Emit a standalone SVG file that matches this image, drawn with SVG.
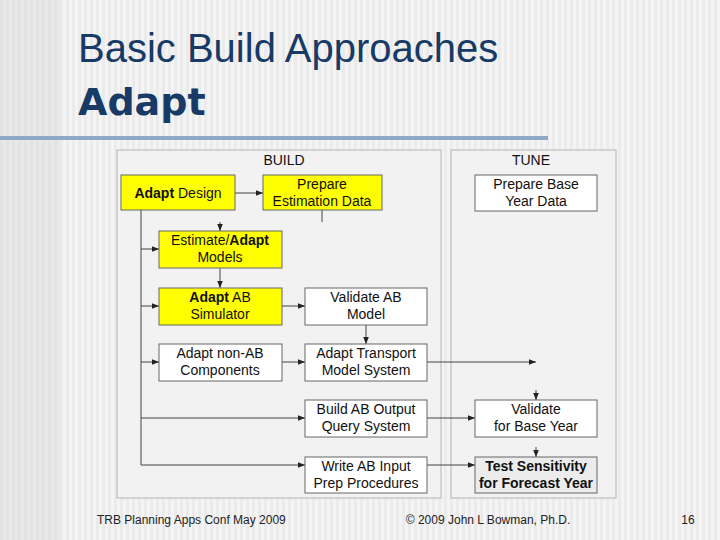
<svg xmlns="http://www.w3.org/2000/svg" width="720" height="540" viewBox="0 0 720 540">
<defs>
<pattern id="st" width="6" height="10" patternUnits="userSpaceOnUse"><rect width="6" height="10" fill="#f4f4f4"/><rect width="3" height="10" fill="#ebebeb"/></pattern>
<marker id="ah" viewBox="0 0 10 10" refX="10" refY="5" markerWidth="7" markerHeight="7" orient="auto"><path d="M0,1 L10,5 L0,9 Z" fill="#222"/></marker>
<style>
.n{stroke:#666;stroke-width:1}
.y{fill:#ffff00}
.w{fill:#ffffff}
.t{font-family:"Liberation Sans",Arial,sans-serif;font-size:14px;fill:#111;text-anchor:middle}
.c{stroke:#444;stroke-width:1;fill:none}
.p{fill:#f2f2f2;stroke:#c8c8c8;stroke-width:1.5}
</style>
</defs>
<rect width="720" height="540" fill="url(#st)"/>
<rect x="0" y="0" width="60" height="540" fill="#d8d8d8" opacity="0.4"/>
<line x1="0" y1="138" x2="548" y2="138" stroke="#8fa8c8" stroke-width="4"/>
<text x="78" y="62" font-family="'Liberation Sans',Arial,sans-serif" font-size="40" fill="#173a66">Basic Build Approaches</text>
<text x="78" y="115" font-family="'DejaVu Sans',sans-serif" font-weight="bold" font-size="38" fill="#173a66">Adapt</text>
<rect class="p" x="117" y="150" width="324" height="348"/>
<rect class="p" x="451" y="150" width="165" height="348"/>
<text class="t" x="284" y="165">BUILD</text>
<text class="t" x="531" y="165">TUNE</text>
<g id="connectors">
<path class="c" d="M235,193 H263" marker-end="url(#ah)"/>
<path class="c" d="M322,210 V222" stroke="#bbb"/>
<path class="c" d="M220,222 V231" marker-end="url(#ah)"/>
<path class="c" d="M141,210 V465" stroke="#ccc"/>
<path class="c" d="M141,249 H159" marker-end="url(#ah)"/>
<path class="c" d="M141,306 H159" marker-end="url(#ah)"/>
<path class="c" d="M141,362 H159" marker-end="url(#ah)"/>
<path class="c" d="M141,418 H305" marker-end="url(#ah)"/>
<path class="c" d="M141,465 H305" marker-end="url(#ah)"/>
<path class="c" d="M220,268 V288" marker-end="url(#ah)"/>
<path class="c" d="M282,306 H305" marker-end="url(#ah)"/>
<path class="c" d="M366,325 V344" marker-end="url(#ah)"/>
<path class="c" d="M282,362 H305" marker-end="url(#ah)"/>
<path class="c" d="M427,362 H536" marker-end="url(#ah)"/>
<path class="c" d="M536,390 V400" marker-end="url(#ah)"/>
<path class="c" d="M427,418 H475" marker-end="url(#ah)"/>
<path class="c" d="M536,447 V457" marker-end="url(#ah)"/>
<path class="c" d="M427,465 H475" marker-end="url(#ah)"/>
</g>
<g id="adapt-design"><rect class="n y" x="121" y="175" width="114" height="35"/><text class="t" x="178" y="198"><tspan font-weight="bold">Adapt</tspan> Design</text></g>
<g id="prepare-est"><rect class="n y" x="263" y="175" width="119" height="35"/><text class="t" x="322" y="189">Prepare</text><text class="t" x="322" y="206">Estimation Data</text></g>
<g id="estimate"><rect class="n y" x="159" y="231" width="123" height="37"/><text class="t" x="220" y="245">Estimate/<tspan font-weight="bold">Adapt</tspan></text><text class="t" x="220" y="262">Models</text></g>
<g id="simulator"><rect class="n y" x="159" y="288" width="123" height="37"/><text class="t" x="220" y="302"><tspan font-weight="bold">Adapt</tspan> AB</text><text class="t" x="220" y="319">Simulator</text></g>
<g id="validate-ab"><rect class="n w" x="305" y="288" width="122" height="37"/><text class="t" x="366" y="302">Validate AB</text><text class="t" x="366" y="319">Model</text></g>
<g id="non-ab"><rect class="n w" x="159" y="344" width="123" height="37"/><text class="t" x="220" y="358">Adapt non-AB</text><text class="t" x="220" y="375">Components</text></g>
<g id="transport"><rect class="n w" x="305" y="344" width="122" height="37"/><text class="t" x="366" y="358">Adapt Transport</text><text class="t" x="366" y="375">Model System</text></g>
<g id="build-output"><rect class="n w" x="305" y="400" width="122" height="37"/><text class="t" x="366" y="414">Build AB Output</text><text class="t" x="366" y="431">Query System</text></g>
<g id="write-input"><rect class="n w" x="305" y="457" width="122" height="36"/><text class="t" x="366" y="471">Write AB Input</text><text class="t" x="366" y="488">Prep Procedures</text></g>
<g id="prepare-base"><rect class="n w" x="475" y="175" width="122" height="36"/><text class="t" x="536" y="189">Prepare Base</text><text class="t" x="536" y="206">Year Data</text></g>
<g id="validate-base"><rect class="n w" x="475" y="400" width="122" height="37"/><text class="t" x="536" y="414">Validate</text><text class="t" x="536" y="431">for Base Year</text></g>
<g id="test-sens"><rect class="n" fill="#ececec" x="475" y="457" width="122" height="36"/><text class="t" x="536" y="471" font-weight="bold">Test Sensitivity</text><text class="t" x="536" y="488" font-weight="bold">for Forecast Year</text></g>
<text x="97" y="524" font-family="'Liberation Sans',Arial,sans-serif" font-size="12" fill="#222">TRB Planning Apps Conf May 2009</text>
<text x="488" y="524" text-anchor="middle" font-family="'Liberation Sans',Arial,sans-serif" font-size="12" fill="#222">© 2009 John L Bowman, Ph.D.</text>
<text x="688" y="524" text-anchor="middle" font-family="'Liberation Sans',Arial,sans-serif" font-size="12" fill="#222">16</text>
</svg>
